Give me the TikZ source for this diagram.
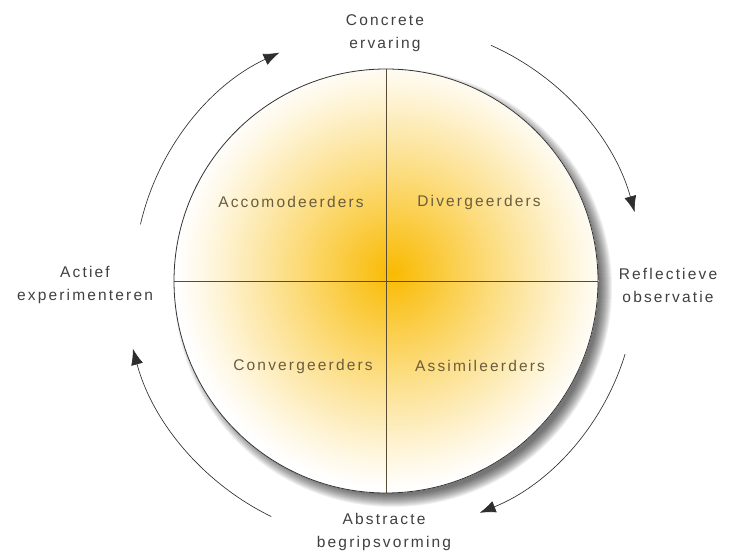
\documentclass[tikz,border=0pt]{standalone}
\usepackage{fontspec}
\setmainfont{Liberation Sans}
\newfontfamily\lblfont{Liberation Sans}[LetterSpace=14]
\usetikzlibrary{arrows.meta,calc}
\definecolor{outertext}{HTML}{404040}
\definecolor{innertext}{HTML}{6A5D3C}
\definecolor{crossline}{HTML}{5A4C32}
\definecolor{arrowcol}{HTML}{2E2E2E}
\definecolor{kolbY}{RGB}{249,186,0}
\tikzset{
  outerlbl/.style={font=\lblfont\fontsize{15.5}{23}\selectfont, text=outertext, align=center, inner sep=0pt},
  innerlbl/.style={font=\lblfont\fontsize{15.5}{19}\selectfont, text=innertext, inner sep=0pt},
  cyclearrow/.style={draw=arrowcol, line width=0.65pt, -{Latex[length=16pt,width=12pt]}},
  crossstyle/.style={draw=crossline, line width=0.8pt}
}
\begin{document}
\begin{tikzpicture}[x=1pt,y=1pt]
\useasboundingbox (0,0) rectangle (730,554);
\fill[white] (0,0) rectangle (730,554);
\coordinate (sh) at (393,266);
\foreach \k in {0,...,12} {
  \pgfmathsetmacro{\sr}{219-\k}
  \fill[black, opacity=0.055] (sh) circle[radius=\sr pt];
}
\node[circle, minimum size=424pt, inner sep=0pt, fill=white] (c) at (386,273) {};
\coordinate (g) at (393,281);
\begin{scope}
  \clip (c) circle[radius=212pt];
  \foreach \i in {0,...,114} {
    \pgfmathsetmacro{\rr}{228-2*\i}
    \pgfmathsetmacro{\pp}{100*pow(max(0,1-\rr/218),1.1)}
    \fill[kolbY!\pp!white] (g) circle[radius=\rr pt];
  }
\end{scope}
\draw[crossstyle] (c.north) -- (c.south);
\draw[crossstyle] (c.west) -- (c.east);
\draw[draw=black!80, line width=0.8pt] (c) circle[radius=212pt];

\node[innerlbl] (acc) at (291,352) {Accomodeerders};
\node[innerlbl] (div) at (479,352) {Divergeerders};
\node[innerlbl] (con) at (303,188) {Convergeerders};
\node[innerlbl] (ass) at (480,188) {Assimileerders};

\node[outerlbl] (ce) at (385,521) {Concrete\\ervaring};
\node[outerlbl] (ro) at (668,269) {Reflectieve\\observatie};
\node[outerlbl] (ab) at (384,22) {Abstracte\\begripsvorming};
\node[outerlbl] (ae) at (85,269) {Actief\\experimenteren};

\coordinate (s1) at ($(c)+(167:252)$);
\coordinate (s2) at ($(c)+(66:258)$);
\coordinate (s3) at ($(c)+(-17:250)$);
\coordinate (s4) at ($(c)+(244:262)$);
\draw[cyclearrow] (s1) arc[start angle=167, end angle=115, radius=252];
\draw[cyclearrow] (s2) arc[start angle=66, end angle=15.5, radius=258];
\draw[cyclearrow] (s3) arc[start angle=-17, end angle=-68, radius=250];
\draw[cyclearrow] (s4) arc[start angle=244, end angle=195, radius=262];
\end{tikzpicture}
\end{document}
